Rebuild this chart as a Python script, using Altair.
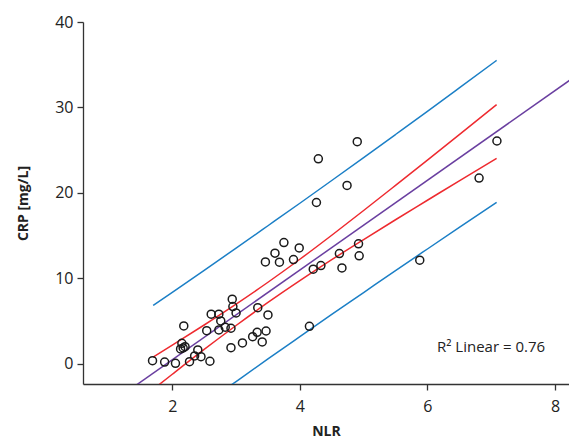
import altair as alt
import pandas as pd

# Scatter data
nlr = [1.69, 1.88, 2.05, 2.27, 2.59, 2.35, 2.45, 2.40, 2.13, 2.17, 2.20, 2.15, 2.18,
       2.54, 2.73, 2.83, 2.92, 2.76, 2.61, 2.73, 3.00, 2.95, 2.94, 2.92, 3.10, 3.26,
       3.41, 3.33, 3.47, 3.34, 3.50, 3.46, 3.68, 3.61, 3.75, 3.90, 3.99, 4.21, 4.33,
       4.15, 4.62, 4.66, 4.92, 4.93, 4.26, 4.29, 4.74, 4.90, 5.88, 6.81, 7.09]
crp = [0.39, 0.23, 0.08, 0.27, 0.32, 0.94, 0.85, 1.64, 1.76, 1.87, 2.03, 2.42, 4.45,
       3.90, 3.98, 4.30, 4.18, 5.04, 5.82, 5.82, 5.97, 6.71, 7.58, 1.91, 2.46, 3.20,
       2.58, 3.71, 3.86, 6.59, 5.74, 11.94, 11.91, 12.96, 14.20, 12.21, 13.58, 11.09, 11.51,
       4.41, 12.92, 11.24, 14.05, 12.65, 18.89, 24.00, 20.88, 26.00, 12.14, 21.74, 26.08]

# Lines
fit_x = [1.0, 8.5]
fit_y = [-4.75, 34.6]
band_x = [1.70, 2.0, 2.5, 3.0, 3.5, 4.0, 4.5, 5.0, 5.5, 6.0, 6.5, 7.085]
ci_upper = [0.80, 2.20, 4.56, 7.00, 9.56, 12.25, 15.06, 17.95, 20.89, 23.85, 26.83, 30.34]
ci_lower = [-2.96, -1.20, 1.70, 4.50, 7.20, 9.75, 12.20, 14.55, 16.87, 19.15, 21.43, 24.06]
pi_upper = [6.85, 8.39, 10.96, 13.55, 16.17, 18.80, 21.46, 24.14, 26.84, 29.55, 32.29, 35.51]
pi_lower = [-9.01, -7.39, -4.70, -2.05, 0.59, 3.20, 5.80, 8.36, 10.92, 13.45, 15.97, 18.89]

x_ticks = [2, 4, 6, 8]
y_ticks = [0, 10, 20, 30, 40]

pts = pd.DataFrame({"NLR": nlr, "CRP": crp})

rows = []
for x, y in zip(fit_x, fit_y):
    rows.append({"series": "fit", "NLR": x, "CRP": y})
for name, ys in [("ci_upper", ci_upper), ("ci_lower", ci_lower),
                 ("pi_upper", pi_upper), ("pi_lower", pi_lower)]:
    for x, y in zip(band_x, ys):
        rows.append({"series": name, "NLR": x, "CRP": y})
lines = pd.DataFrame(rows)

xscale = alt.Scale(domain=[0.6, 8.22], nice=False, zero=False)
yscale = alt.Scale(domain=[-2.34, 40], nice=False, zero=False)

FONT = "Open Sans"
xaxis = alt.Axis(values=x_ticks, format="d", title="NLR", grid=False, tickSize=6,
                 labelFontSize=16, labelPadding=8, titleFontSize=14,
                 titleFontWeight="bold", titlePadding=10, labelFont=FONT, titleFont=FONT,
                 domainColor="#333333", tickColor="#333333", labelColor="#222222",
                 titleColor="#222222", domainWidth=1.3, tickWidth=1.3)
yaxis = alt.Axis(values=y_ticks, format="d", title="CRP [mg/L]", grid=False, tickSize=6,
                 labelFontSize=16, labelPadding=4, titleFontSize=14,
                 titleFontWeight="bold", titlePadding=24, labelFont=FONT, titleFont=FONT,
                 domainColor="#333333", tickColor="#333333", labelColor="#222222",
                 titleColor="#222222", domainWidth=1.3, tickWidth=1.3)

line_chart = alt.Chart(lines).mark_line(strokeWidth=1.5, clip=True, interpolate="monotone").encode(
    x=alt.X("NLR:Q", scale=xscale, axis=xaxis),
    y=alt.Y("CRP:Q", scale=yscale, axis=yaxis),
    detail="series:N",
    color=alt.Color("series:N", legend=None,
                    scale=alt.Scale(domain=["fit", "ci_upper", "ci_lower", "pi_upper", "pi_lower"],
                                    range=["#6a3fa0", "#ee2a2f", "#ee2a2f", "#1b7fc6", "#1b7fc6"])),
)

point_chart = alt.Chart(pts).mark_point(shape="circle", filled=False, size=64,
                                        strokeWidth=1.5, color="#1a1a1a", opacity=1).encode(
    x=alt.X("NLR:Q", scale=xscale),
    y=alt.Y("CRP:Q", scale=yscale),
)

label = alt.Chart(pd.DataFrame({"NLR": [6.15], "CRP": [2.0], "t": ["R² Linear = 0.76"]})).mark_text(
    align="left", baseline="middle", fontSize=15, font=FONT, color="#222222"
).encode(
    x=alt.X("NLR:Q", scale=xscale),
    y=alt.Y("CRP:Q", scale=yscale),
    text="t:N",
)

chart = alt.layer(line_chart, point_chart, label).properties(
    width=486, height=362,
    padding={"left": 75, "top": 14, "right": 0, "bottom": 57},
    autosize=alt.AutoSizeParams(type="none"),
).configure_view(stroke=None)

chart.save("out.html", embed_options={"renderer": "svg", "actions": False})
